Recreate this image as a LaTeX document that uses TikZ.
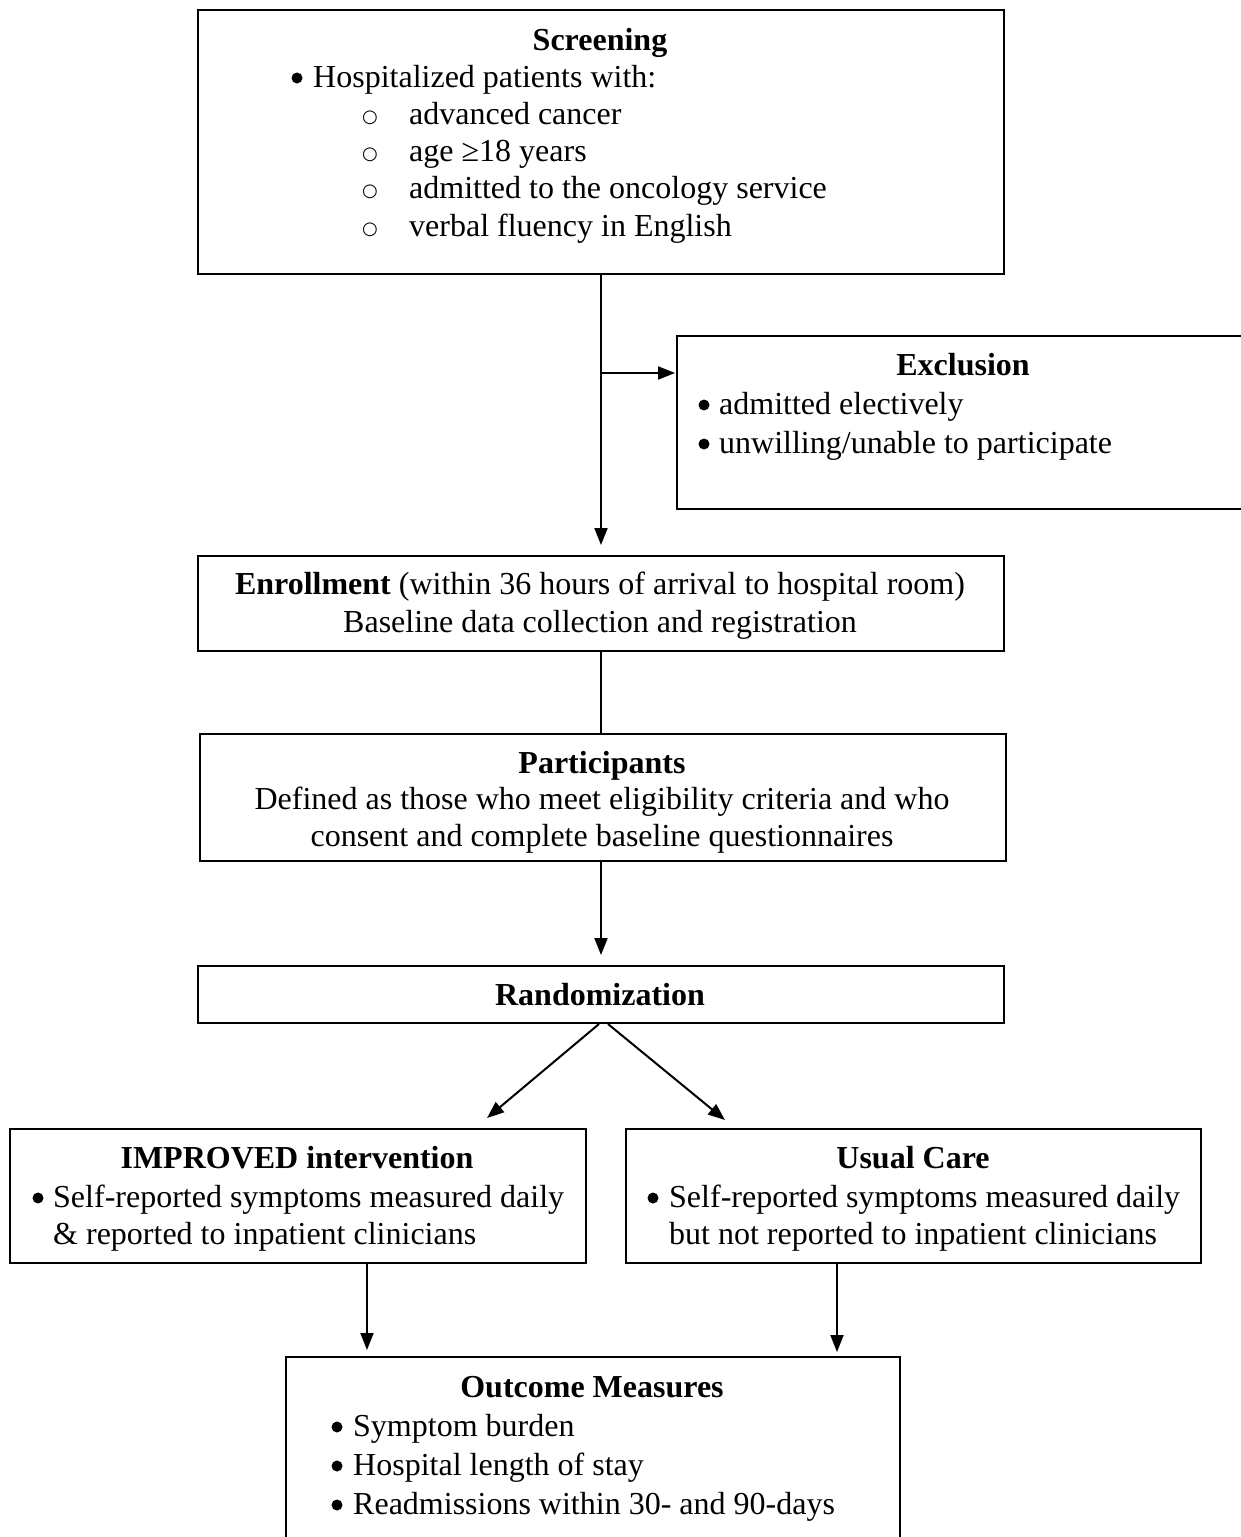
\documentclass[tikz,border=0pt]{standalone}
\usepackage{fontspec}
\setmainfont{Liberation Serif}
\newfontfamily\dejav{DejaVu Sans}
\usetikzlibrary{arrows.meta}
\tikzset{
  box/.style={draw, line width=2pt, inner sep=0pt, anchor=north west},
  txt/.style={inner sep=0pt, anchor=base west, font=\fontsize{32}{38}\selectfont},
  ctxt/.style={inner sep=0pt, anchor=base, font=\fontsize{32}{38}\selectfont},
  ttl/.style={inner sep=0pt, anchor=base, font=\fontsize{32}{38}\selectfont\bfseries},
  bul/.style={circle, fill=black, inner sep=0pt, minimum size=11pt},
  cir/.style={inner sep=0pt, anchor=center, font=\fontsize{18}{18}\dejav},
  ln/.style={line width=2pt},
  arr/.style={line width=2pt, -{Triangle[length=17pt,width=13pt]}}
}
\begin{document}
\begin{tikzpicture}[x=1pt,y=-1pt]
\useasboundingbox (0,0) rectangle (1241,1537);
\fill[white] (0,0) rectangle (1241,1537);
\clip (0,0) rectangle (1241,1537);

% boxes
\node[box, minimum width=806pt, minimum height=264pt] (scr) at (197,9) {};
\node[box, minimum width=700pt, minimum height=173pt] (excl) at (676,335) {};
\node[box, minimum width=806pt, minimum height=95pt] (enr) at (197,555) {};
\node[box, minimum width=806pt, minimum height=127pt] (part) at (199,733) {};
\node[box, minimum width=806pt, minimum height=57pt] (rand) at (197,965) {};
\node[box, minimum width=576pt, minimum height=134pt] (imp) at (9,1128) {};
\node[box, minimum width=575pt, minimum height=134pt] (usual) at (625,1128) {};
\node[box, minimum width=614pt, minimum height=300pt] (outc) at (285,1356) {};

% Screening text
\node[ttl] (t1) at (600,50) {Screening};
\node[bul] (b1) at (297,78) {};
\node[txt] (t2) at (313,87) {Hospitalized patients with:};
\node[cir] (c1) at (370,118) {○};
\node[txt] (t3) at (409,124) {advanced cancer};
\node[cir] (c2) at (370,155) {○};
\node[txt] (t4) at (409,161) {age ≥18 years};
\node[cir] (c3) at (370,192) {○};
\node[txt] (t5) at (409,198) {admitted to the oncology service};
\node[cir] (c4) at (370,230) {○};
\node[txt] (t6) at (409,236) {verbal fluency in English};

% Exclusion text
\node[ttl] (e1) at (963,375) {Exclusion};
\node[bul] (eb1) at (704,405) {};
\node[txt] (e2) at (719,414) {admitted electively};
\node[bul] (eb2) at (704,444) {};
\node[txt] (e3) at (719,453) {unwilling/unable to participate};

% Enrollment text
\node[ctxt] (n1) at (600,594) {\textbf{Enrollment} (within 36 hours of arrival to hospital room)};
\node[ctxt] (n2) at (600,632) {Baseline data collection and registration};

% Participants text
\node[ttl] (p1) at (602,773) {Participants};
\node[ctxt] (p2) at (602,809) {Defined as those who meet eligibility criteria and who};
\node[ctxt] (p3) at (602,846) {consent and complete baseline questionnaires};

% Randomization
\node[ttl] (r1) at (600,1005) {Randomization};

% IMPROVED
\node[ttl] (i1) at (297,1168) {IMPROVED intervention};
\node[bul] (ib) at (38,1198) {};
\node[txt] (i2) at (53,1207) {Self-reported symptoms measured daily};
\node[txt] (i3) at (53,1244) {\& reported to inpatient clinicians};

% Usual care
\node[ttl] (u1) at (913,1168) {Usual Care};
\node[bul] (ub) at (653,1198) {};
\node[txt] (u2) at (669,1207) {Self-reported symptoms measured daily};
\node[txt] (u3) at (669,1244) {but not reported to inpatient clinicians};

% Outcome
\node[ttl] (o1) at (592,1397) {Outcome Measures};
\node[bul] (ob1) at (337,1427) {};
\node[txt] (o2) at (353,1436) {Symptom burden};
\node[bul] (ob2) at (337,1466) {};
\node[txt] (o3) at (353,1475) {Hospital length of stay};
\node[bul] (ob3) at (337,1505) {};
\node[txt] (o4) at (353,1514) {Readmissions within 30- and 90-days};

% connectors
\coordinate (br) at (600,373);
\draw[arr, shorten >=10pt] (scr.south) -- (enr.north);
\draw[arr, shorten >=1pt] (br) -- (excl.west |- br);
\draw[ln] (enr.south) -- (enr.south |- part.north);
\draw[arr, shorten >=10pt] (rand.north |- part.south) -- (rand.north);
\coordinate (ia) at (487,1118);
\coordinate (ua) at (725,1120);
\draw[arr] ([xshift=-2pt]rand.south) -- (ia);
\draw[arr] ([xshift=7pt]rand.south) -- (ua);
\draw[arr, shorten >=6pt] ([xshift=69pt]imp.south) -- ([xshift=69pt]imp.south |- outc.north);
\draw[arr, shorten >=4pt] ([xshift=-76.5pt]usual.south) -- ([xshift=-76.5pt]usual.south |- outc.north);
\end{tikzpicture}
\end{document}
